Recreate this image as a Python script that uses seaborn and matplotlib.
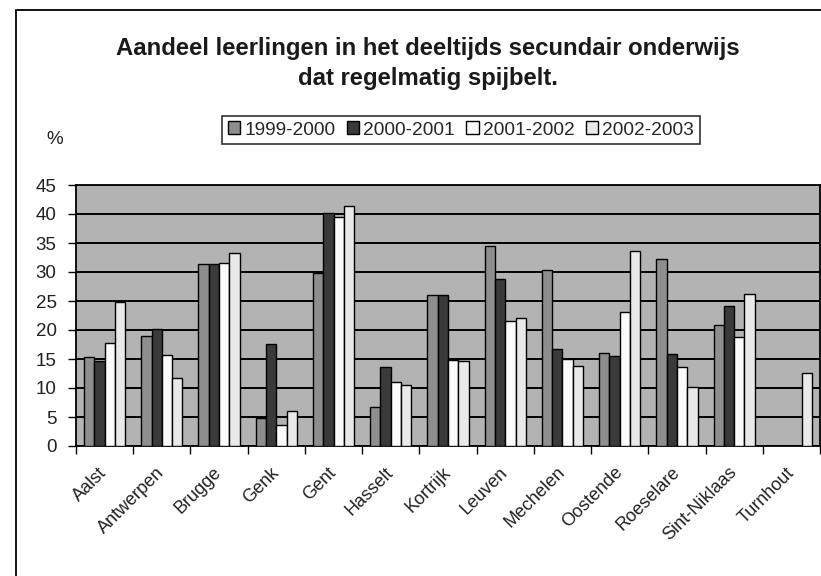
import numpy as np
import pandas as pd
import matplotlib
matplotlib.use("Agg")
import matplotlib.pyplot as plt
from matplotlib.patches import Rectangle, Patch
from matplotlib.transforms import ScaledTranslation
import seaborn as sns

cities = ["Aalst", "Antwerpen", "Brugge", "Genk", "Gent", "Hasselt", "Kortrijk",
          "Leuven", "Mechelen", "Oostende", "Roeselare", "Sint-Niklaas", "Turnhout"]
years = ["1999-2000", "2000-2001", "2001-2002", "2002-2003"]
v1999 = [15.3, 19.0, 31.3, 4.8, 29.9, 6.7, 26.1, 34.4, 30.3, 16.1, 32.2, 20.9, np.nan]
v2000 = [14.7, 20.1, 31.3, 17.6, 40.1, 13.7, 26.0, 28.8, 16.8, 15.6, 15.9, 24.1, np.nan]
v2001 = [17.8, 15.7, 31.6, 3.6, 39.5, 11.1, 14.8, 21.5, 15.0, 23.1, 13.7, 18.8, np.nan]
v2002 = [24.9, 11.8, 33.3, 6.1, 41.3, 10.6, 14.6, 22.0, 13.8, 33.7, 10.2, 26.2, 12.6]
yticks = [0, 5, 10, 15, 20, 25, 30, 35, 40, 45]

colors = ["#8e8e8e", "#3a3a3a", "#fbfbfb", "#e9e9e9"]

rows = []
for yr, vals in zip(years, [v1999, v2000, v2001, v2002]):
    for c, v in zip(cities, vals):
        rows.append({"stad": c, "jaar": yr, "pct": v})
df = pd.DataFrame(rows)

sns.set_theme(style="white")
plt.rcParams["font.family"] = ["Liberation Sans", "DejaVu Sans"]

fig = plt.figure(figsize=(8.21, 5.76), dpi=100)
ax = fig.add_axes([76 / 821, 1 - 446 / 576, (820 - 76) / 821, (446 - 185) / 576])
ax.set_facecolor("#b3b3b3")

sns.barplot(data=df, x="stad", y="pct", hue="jaar", hue_order=years, order=cities,
            palette=colors, width=0.72, edgecolor="black", linewidth=1.0,
            saturation=1, errorbar=None, legend=False, ax=ax, zorder=3)

ax.set_ylim(0, 45)
ax.set_xlim(-0.5, len(cities) - 0.5)
ax.set_yticks(yticks)
ax.set_yticklabels([str(t) for t in yticks], fontsize=13.5, color="#222222")
ax.yaxis.grid(True, color="black", linewidth=1.4, zorder=1)
ax.set_axisbelow(True)
ax.tick_params(axis="y", length=6, width=1, color="black", pad=8, left=True)

ax.set_xticks(range(len(cities)))
ax.set_xticklabels(cities, rotation=45, ha="right", rotation_mode="anchor",
                   fontsize=13, color="#222222")
ax.tick_params(axis="x", which="major", length=0, pad=13)
shift = ScaledTranslation(-6 / 100, 0, fig.dpi_scale_trans)
for lbl in ax.get_xticklabels():
    lbl.set_transform(lbl.get_transform() + shift)
ax.set_xticks(np.arange(-0.5, len(cities), 1.0), minor=True)
ax.tick_params(axis="x", which="minor", length=6, width=1, color="black", bottom=True)
ax.set_xlabel("")
ax.set_ylabel("")
for s in ax.spines.values():
    s.set_color("black")
    s.set_linewidth(1.3)

fig.text(428 / 821, 1 - 48 / 576, "Aandeel leerlingen in het deeltijds secundair onderwijs",
         ha="center", va="center", fontsize=17.2, fontweight="bold", color="#1a1a1a")
fig.text(428 / 821, 1 - 78 / 576, "dat regelmatig spijbelt.",
         ha="center", va="center", fontsize=17.2, fontweight="bold", color="#1a1a1a")
fig.text(55 / 821, 1 - 140 / 576, "%", ha="center", va="center", fontsize=13.5, color="#222222")

handles = [Patch(facecolor=c, edgecolor="black", linewidth=1.0) for c in colors]
leg = fig.legend(handles, years, loc="center", bbox_to_anchor=(461 / 821, 1 - 130 / 576),
                 ncol=4, fontsize=13.8, frameon=True, handlelength=0.65, handleheight=0.65,
                 handletextpad=0.2, columnspacing=0.6, borderpad=0.3, fancybox=False)
leg.get_frame().set_edgecolor("black")
leg.get_frame().set_linewidth(1.2)

fig.patches.append(Rectangle((16 / 821, -0.1), 1.2, 1 - 10 / 576 + 0.1,
                             transform=fig.transFigure, fill=False,
                             edgecolor="black", linewidth=1.3))

fig.savefig("out.png", dpi=100)
